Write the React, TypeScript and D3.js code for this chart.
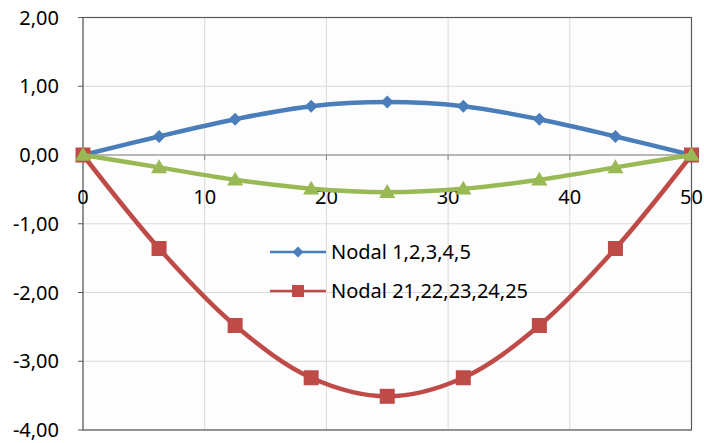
import React from "react";
import * as d3 from "d3";

const xValues = [0, 6.25, 12.5, 18.75, 25, 31.25, 37.5, 43.75, 50];
const blueValues = [0, 0.27, 0.52, 0.71, 0.77, 0.71, 0.52, 0.27, 0];
const redValues = [0, -1.36, -2.48, -3.24, -3.51, -3.24, -2.48, -1.36, 0];
const greenValues = [0, -0.18, -0.36, -0.49, -0.54, -0.49, -0.36, -0.18, 0];
const yTicks = [2, 1, 0, -1, -2, -3, -4];
const xTicks = [0, 10, 20, 30, 40, 50];
const legendLabels = ["Nodal 1,2,3,4,5", "Nodal 21,22,23,24,25"];

const W = 704;
const H = 443;
const BLUE = "#4A7EBB";
const RED = "#BE4B48";
const GREEN = "#98B954";
const FONT = "'Noto Sans', 'Open Sans', sans-serif";

export default function App() {
  const x = d3.scaleLinear().domain([0, 50]).range([83, 691.5]);
  const y = d3.scaleLinear().domain([-4, 2]).range([430, 17.5]);
  const line = d3
    .line<[number, number]>()
    .x((d) => x(d[0]))
    .y((d) => y(d[1]))
    .curve(d3.curveCatmullRom.alpha(0.5));
  const pts = (vals: number[]) => xValues.map((v, i) => [v, vals[i]] as [number, number]);
  const fmt = (v: number) => v.toFixed(2).replace(".", ",");

  const diamond = (cx: number, cy: number, r: number) =>
    `M${cx},${cy - r}L${cx + r},${cy}L${cx},${cy + r}L${cx - r},${cy}Z`;
  const triangle = (cx: number, cy: number, s: number) =>
    `M${cx},${cy - s * 0.62}L${cx + s * 0.62},${cy + s * 0.45}L${cx - s * 0.62},${cy + s * 0.45}Z`;

  const [x0, x1] = x.range();
  const [yb, yt] = y.range();

  return (
    <svg
      width={W}
      height={H}
      style={{ position: "absolute", left: 0, top: 0, display: "block", background: "#fff" }}
    >
      <rect x={0} y={0} width={W} height={H} fill="#fff" />
      <rect x={x0} y={yt} width={x1 - x0} height={yb - yt} fill="#FDFDFD" />
      {/* gridlines */}
      {yTicks.map((t) => (
        <line key={"gy" + t} x1={x0} x2={x1} y1={y(t)} y2={y(t)} stroke="#D9D9D9" strokeWidth={1} />
      ))}
      {xTicks.map((t) => (
        <line key={"gx" + t} x1={x(t)} x2={x(t)} y1={yt} y2={yb} stroke="#D9D9D9" strokeWidth={1} />
      ))}
      {/* plot border */}
      <rect x={x0} y={yt} width={x1 - x0} height={yb - yt} fill="none" stroke="#595959" strokeWidth={1.2} />
      {/* x axis at zero */}
      <line x1={x0} x2={x1} y1={y(0)} y2={y(0)} stroke="#868686" strokeWidth={1.2} />
      {xTicks.map((t) => (
        <line key={"xt" + t} x1={x(t)} x2={x(t)} y1={y(0)} y2={y(0) + 5} stroke="#868686" strokeWidth={1} />
      ))}
      {/* y axis ticks */}
      {yTicks.map((t) => (
        <line key={"yt" + t} x1={x0 - 5} x2={x0} y1={y(t)} y2={y(t)} stroke="#595959" strokeWidth={1} />
      ))}
      {yTicks.map((t) => (
        <text
          key={"yl" + t}
          x={59}
          y={y(t)}
          dy="0.36em"
          textAnchor="end"
          fontFamily={FONT}
          fontSize={20}
          fill="#000"
        >
          {fmt(t)}
        </text>
      ))}
      {xTicks.map((t) => (
        <text
          key={"xl" + t}
          x={x(t)}
          y={y(0) + 49}
          textAnchor="middle"
          fontFamily={FONT}
          fontSize={20}
          fill="#000"
        >
          {t}
        </text>
      ))}
      {/* series */}
      <path d={line(pts(blueValues)) || ""} fill="none" stroke={BLUE} strokeWidth={4.5} />
      {pts(blueValues).map((p, i) => (
        <path key={"bm" + i} d={diamond(x(p[0]), y(p[1]), 6.5)} fill={BLUE} />
      ))}
      <path d={line(pts(redValues)) || ""} fill="none" stroke={RED} strokeWidth={4.5} />
      {pts(redValues).map((p, i) => (
        <rect key={"rm" + i} x={x(p[0]) - 7.5} y={y(p[1]) - 7.5} width={15} height={15} fill={RED} />
      ))}
      <path d={line(pts(greenValues)) || ""} fill="none" stroke={GREEN} strokeWidth={4.5} />
      {pts(greenValues).map((p, i) => (
        <path key={"gm" + i} d={triangle(x(p[0]), y(p[1]), 13)} fill={GREEN} />
      ))}
      {/* legend */}
      {legendLabels.map((lab, i) => {
        const cy = 252 + i * 39;
        const color = i === 0 ? BLUE : RED;
        return (
          <g key={"lg" + i}>
            <line x1={270} x2={326} y1={cy} y2={cy} stroke={color} strokeWidth={2.5} />
            {i === 0 ? (
              <path d={diamond(298, cy, 5.5)} fill={color} />
            ) : (
              <rect x={292} y={cy - 6} width={12} height={12} fill={color} />
            )}
            <text x={331} y={cy} dy="0.36em" fontFamily={FONT} fontSize={20} fill="#000">
              {lab}
            </text>
          </g>
        );
      })}
    </svg>
  );
}
